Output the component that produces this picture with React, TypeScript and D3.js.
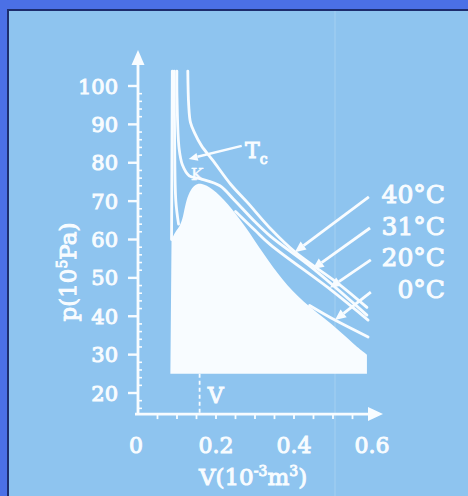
import React, { useEffect, useRef } from 'react';
import * as d3 from 'd3';

const W = 468;
const H = 496;
const BG = '#8ec4ef';
const BORDER = '#4b70e6';
const EDGE = '#1d2d6e';
const INK = '#f8fcff';
const FONT = '"DejaVu Serif", "Liberation Serif", serif';

// axis ticks
const pTicks = [20, 30, 40, 50, 60, 70, 80, 90, 100];
const vTicks = [0, 0.2, 0.4, 0.6];
const vMinor = [0.05, 0.1, 0.15, 0.2, 0.25, 0.3, 0.35, 0.4, 0.45, 0.5, 0.55];

// saturation dome (two-phase region), V in 1e-3 m3, p in 1e5 Pa
const domeV = [0.086, 0.095, 0.108, 0.116, 0.122, 0.132, 0.145, 0.162, 0.19, 0.23, 0.275, 0.32, 0.373, 0.42, 0.5, 0.555, 0.587];
const domeP = [60, 62, 63.5, 66, 69.5, 72.5, 74.3, 74.8, 73.4, 69.5, 63.5, 56.5, 49.0, 44.0, 37.8, 32.5, 30.0];

// isotherms
const iso0LiqV = [0.088, 0.087, 0.086];
const iso0LiqP = [103.9, 80, 60];
const iso0VapV = [0.44, 0.505, 0.59];
const iso0VapP = [42.8, 39.0, 34.6];
const iso20LiqV = [0.093, 0.094, 0.097, 0.104];
const iso20LiqP = [103.9, 85, 70, 64];
const iso20VapV = [0.25, 0.3, 0.34, 0.493, 0.59];
const iso20VapP = [67.3, 62.4, 58.6, 47.0, 39.0];
const iso31V = [0.0996, 0.1, 0.1055, 0.114, 0.1315, 0.161, 0.21, 0.245, 0.3, 0.34, 0.449, 0.587];
const iso31P = [103.9, 97, 83.6, 79.4, 76.6, 75.8, 74.0, 70.5, 64.6, 60.8, 52.4, 40.3];
const iso40V = [0.1277, 0.13, 0.1345, 0.145, 0.163, 0.192, 0.2375, 0.281, 0.34, 0.403, 0.511, 0.587];
const iso40P = [103.9, 95, 90.5, 87.8, 84.4, 80.6, 74.4, 69.6, 62.8, 56.7, 48.7, 42.3];

// labels and where their arrows point (data units)
const tempLabels = ['40°C', '31°C', '20°C', '0°C'];
const arrowFromV = [0.592, 0.595, 0.597, 0.597];
const arrowFromP = [71.1, 63.0, 54.7, 46.3];
const arrowToV = [0.402, 0.448, 0.492, 0.505];
const arrowToP = [56.7, 52.3, 47.4, 39.0];
const critV = 0.158;

const zip = (a: number[], b: number[]) => a.map((v, i) => [v, b[i]] as [number, number]);

export default function App() {
  const ref = useRef<SVGSVGElement>(null);

  useEffect(() => {
    document.body.style.margin = '0';
    const svg = d3.select(ref.current);
    svg.selectAll('*').remove();

    const x = d3.scaleLinear().domain([0, 0.6]).range([138, 372]);
    const y = d3.scaleLinear().domain([20, 100]).range([393, 86]);
    const x0 = x(0);
    const y0 = y(14.5);

    // frame
    svg.append('rect').attr('width', W).attr('height', H).attr('fill', BG);
    svg.append('rect').attr('width', W).attr('height', 9).attr('fill', BORDER);
    svg.append('rect').attr('width', 7).attr('height', H).attr('fill', BORDER);
    svg.append('rect').attr('x', 7).attr('y', 9).attr('width', W).attr('height', 2).attr('fill', EDGE);
    svg.append('rect').attr('x', 7).attr('y', 9).attr('width', 2).attr('height', H).attr('fill', EDGE);
    // scanner streak
    svg.append('rect').attr('x', 334).attr('y', 11).attr('width', 2).attr('height', H)
      .attr('fill', '#ffffff').attr('opacity', 0.1);

    const line = d3.line<[number, number]>()
      .x(d => x(d[0])).y(d => y(d[1]))
      .curve(d3.curveCatmullRom.alpha(0.5));
    const smooth = d3.line<[number, number]>()
      .x(d => x(d[0])).y(d => y(d[1]))
      .curve(d3.curveBasis);

    // filled two-phase region
    const dome = zip(domeV, domeP);
    const last = dome[dome.length - 1];
    const fillPath = smooth(dome) +
      `L${x(last[0])},${y(25)}L${x(0.083)},${y(25)}Z`;
    svg.append('path').attr('d', fillPath).attr('fill', INK);

    const curves = [
      zip(iso0LiqV, iso0LiqP), zip(iso0VapV, iso0VapP),
      zip(iso20LiqV, iso20LiqP), zip(iso20VapV, iso20VapP),
      zip(iso31V, iso31P), zip(iso40V, iso40P),
    ];
    svg.append('g').selectAll('path').data(curves).enter().append('path')
      .attr('d', d => line(d))
      .attr('fill', 'none').attr('stroke', INK).attr('stroke-width', 2.8)
      .attr('stroke-linecap', 'round');

    const arrow = (x1: number, y1: number, x2: number, y2: number, len: number, hw: number, sw: number) => {
      const a = Math.atan2(y2 - y1, x2 - x1);
      const bx = x2 - len * Math.cos(a), by = y2 - len * Math.sin(a);
      svg.append('line').attr('x1', x1).attr('y1', y1).attr('x2', bx).attr('y2', by)
        .attr('stroke', INK).attr('stroke-width', sw);
      const px = -Math.sin(a) * hw, py = Math.cos(a) * hw;
      svg.append('path')
        .attr('d', `M${x2},${y2}L${bx + px},${by + py}L${bx - px},${by - py}Z`)
        .attr('fill', INK);
    };

    const txt = (sel: d3.Selection<SVGTextElement, any, any, any>, size: number) =>
      sel.attr('font-family', FONT).attr('font-size', size).attr('fill', INK)
        .attr('stroke', INK).attr('stroke-width', 1);

    // axes
    arrow(x0, y0 + 1, x0, 50, 15, 6.5, 2.8);
    arrow(x0 - 3, y0, 383, y0, 15, 7, 2.8);

    // y ticks
    const gy = svg.append('g');
    gy.selectAll('line.maj').data(pTicks).enter().append('line')
      .attr('x1', x0 - 10).attr('x2', x0).attr('y1', d => y(d)).attr('y2', d => y(d))
      .attr('stroke', INK).attr('stroke-width', 2.4);
    const pMinor = d3.range(16, 101, 2).filter(d => d % 10 !== 0);
    gy.selectAll('line.min').data(pMinor).enter().append('line')
      .attr('x1', x0).attr('x2', x0 + 4).attr('y1', d => y(d)).attr('y2', d => y(d))
      .attr('stroke', INK).attr('stroke-width', 1.6);
    txt(gy.selectAll('text').data(pTicks).enter().append('text'), 21)
      .attr('x', 118).attr('y', d => y(d)).attr('dy', '0.36em')
      .attr('text-anchor', 'end')
      .text(d => String(d));

    // x ticks
    const gx = svg.append('g');
    gx.selectAll('line').data(vMinor).enter().append('line')
      .attr('x1', d => x(d)).attr('x2', d => x(d)).attr('y1', y0).attr('y2', y0 + 5)
      .attr('stroke', INK).attr('stroke-width', 1.8);
    txt(gx.selectAll('text').data(vTicks).enter().append('text'), 22)
      .attr('x', d => x(d) - (d === 0 ? 2 : 0)).attr('y', 453)
      .attr('text-anchor', 'middle')
      .text(d => (d === 0 ? '0' : d.toFixed(1)));

    // axis titles
    const xt = txt(svg.append('text'), 23).attr('x', 253).attr('y', 485)
      .attr('text-anchor', 'middle');
    xt.append('tspan').text('V(10');
    xt.append('tspan').attr('font-size', 14).attr('dy', -9).text('-3');
    xt.append('tspan').attr('dy', 9).text('m');
    xt.append('tspan').attr('font-size', 14).attr('dy', -9).text('3');
    xt.append('tspan').attr('dy', 9).text(')');

    const yt = txt(svg.append('text'), 23).attr('transform', 'translate(76,272) rotate(-90)')
      .attr('text-anchor', 'middle');
    yt.append('tspan').text('p(10');
    yt.append('tspan').attr('font-size', 14).attr('dy', -9).text('5');
    yt.append('tspan').attr('dy', 9).text('Pa)');

    // critical volume
    svg.append('line').attr('x1', x(critV)).attr('x2', x(critV)).attr('y1', y(25)).attr('y2', y0)
      .attr('stroke', INK).attr('stroke-width', 1.8).attr('stroke-dasharray', '4,3');
    txt(svg.append('text'), 22).attr('x', x(critV) + 16).attr('y', 403)
      .attr('text-anchor', 'middle').text('V');

    // temperature labels with arrows
    tempLabels.forEach((t, i) => {
      txt(svg.append('text'), 25).attr('x', 445).attr('y', 203 + i * 31.7)
        .attr('text-anchor', 'end').text(t);
      arrow(x(arrowFromV[i]), y(arrowFromP[i]), x(arrowToV[i]), y(arrowToP[i]), 11, 5, 2.8);
    });

    // Tc and K
    arrow(x(0.266), y(84.4), x(0.13), y(81.0), 9, 4, 2.4);
    const tc = txt(svg.append('text'), 22).attr('x', 245).attr('y', 158);
    tc.append('tspan').text('T');
    tc.append('tspan').attr('font-size', 14).attr('dy', 6).text('c');
    txt(svg.append('text'), 17).attr('x', 197).attr('y', 180)
      .attr('text-anchor', 'middle').attr('stroke-width', 0.4).text('K');
  }, []);

  return (
    <svg ref={ref} width={W} height={H} style={{ position: 'absolute', left: 0, top: 0 }} />
  );
}
